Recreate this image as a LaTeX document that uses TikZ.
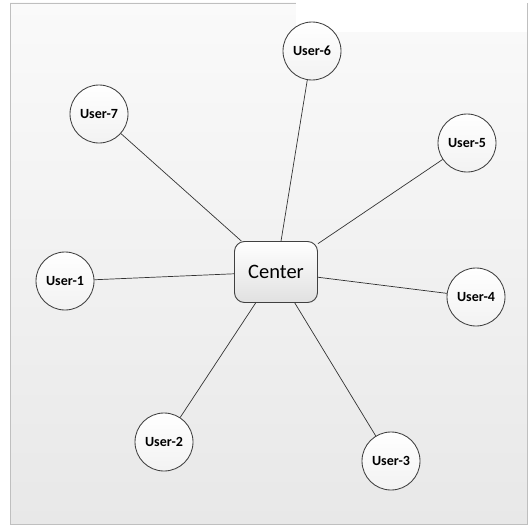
\documentclass[tikz,border=0pt]{standalone}
\usepackage{fontspec}
\setmainfont{Carlito}
\begin{document}
\begin{tikzpicture}[x=1pt,y=-1pt,
  user/.style={circle, draw=black!75, line width=0.85pt, minimum size=58pt, inner sep=0pt,
    top color=white, bottom color=black!5, font=\bfseries\fontsize{14}{16}\selectfont},
  hub/.style={rounded corners=10pt, draw=black!75, line width=0.9pt, minimum width=83pt, minimum height=61pt,
    top color=white, bottom color=black!12, font=\fontsize{20.5}{24}\selectfont},
  link/.style={draw=black!80, line width=0.7pt}]
\useasboundingbox (0,0) rectangle (532,527);
\fill[white] (0,0) rectangle (532,527);
\shade[top color=black!2, bottom color=black!9, draw=black!25, line width=0.8pt] (10,3) rectangle (527,524);
\fill[white] (296,0) rectangle (526.5,32);
\node[hub] (c) at (276,272) {Center};
\node[user] (u6) at (312,51) {User-6};
\node[user] (u7) at (99,114) {User-7};
\node[user] (u5) at (467,143) {User-5};
\node[user] (u1) at (65,281) {User-1};
\node[user] (u4) at (476,297) {User-4};
\node[user] (u2) at (164,442) {User-2};
\node[user] (u3) at (391,461) {User-3};
\foreach \u in {u1,u2,u3,u4,u5,u6,u7} \draw[link] (c) -- (\u);
\end{tikzpicture}
\end{document}
